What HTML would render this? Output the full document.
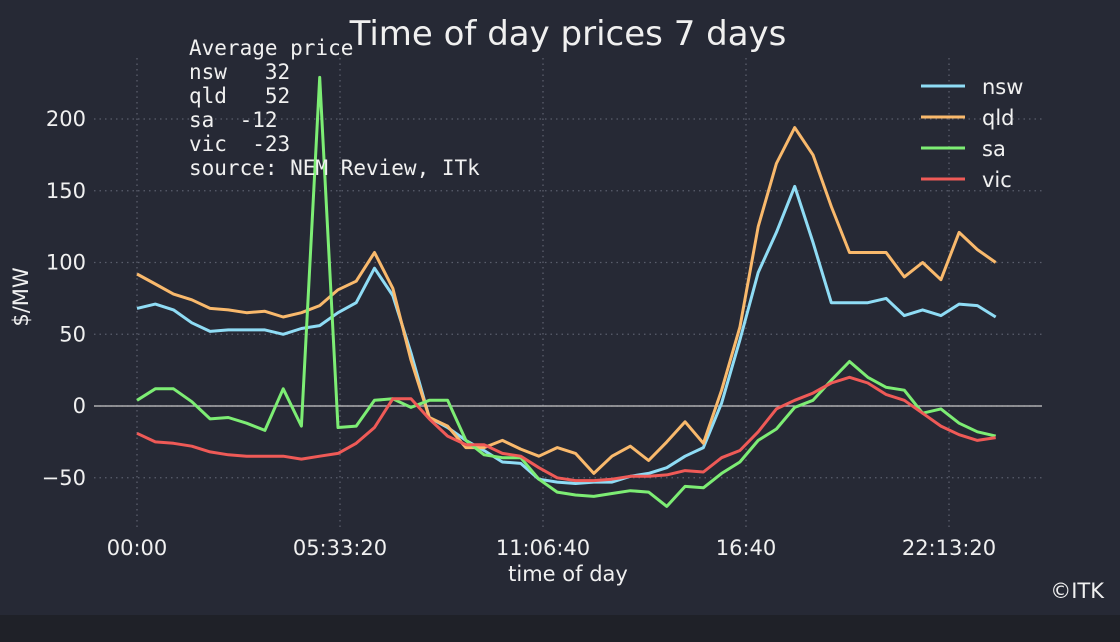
<!DOCTYPE html>
<html><head><meta charset="utf-8">
<style>
html,body{margin:0;padding:0;background:#1f2128;}
body{width:1120px;height:642px;overflow:hidden;}
svg{display:block;}
text{font-family:"DejaVu Sans","Liberation Sans",sans-serif;fill:#f0f0f0;}
.mono{font-family:"DejaVu Sans Mono","Liberation Mono",monospace;}
</style></head>
<body>
<svg id="chart" width="1120" height="642">
<rect x="0" y="0" width="1120" height="615" fill="#262935"/>
<g id="grid"></g>
<g id="series"></g>
<g id="axes"></g>
<text x="568" y="45" font-size="34" text-anchor="middle">Time of day prices 7 days</text>
<text class="mono" x="189" y="55" font-size="21">Average price</text>
<text class="mono" x="189" y="79" font-size="21" xml:space="preserve">nsw   32</text>
<text class="mono" x="189" y="103" font-size="21" xml:space="preserve">qld   52</text>
<text class="mono" x="189" y="127" font-size="21" xml:space="preserve">sa  -12</text>
<text class="mono" x="189" y="151" font-size="21" xml:space="preserve">vic  -23</text>
<text class="mono" x="189" y="175" font-size="21">source: NEM Review, ITk</text>
<text x="568" y="581" font-size="21" text-anchor="middle">time of day</text>
<text x="28" y="297" font-size="21" text-anchor="middle" transform="rotate(-90 28 297)">$/MW</text>
<text x="1104" y="598" font-size="21" text-anchor="end">©ITK</text>
<g id="legend"></g>
</svg>
<script>
const regions = ["nsw","qld","sa","vic"];
const colors = ["#8fdcf5","#f9b96c","#7ded74","#ef5a57"];
const nsw = [68,71,67,58,52,53,53,53,50,54,56,65,72,96,77,37,-8,-15,-24,-31,-39,-40,-51,-53,-54,-53,-53,-49,-47,-43,-35,-29,2,46,93,121,153,114,72,72,72,75,63,67,63,71,70,62];
const qld = [92,85,78,74,68,67,65,66,62,65,70,81,87,107,82,32,-8,-14,-29,-29,-24,-30,-35,-29,-33,-47,-35,-28,-38,-25,-11,-26,11,55,125,169,194,175,139,107,107,107,90,100,88,121,109,100];
const sa = [4,12,12,3,-9,-8,-12,-17,12,-14,229,-15,-14,4,5,-1,4,4,-24,-34,-36,-36,-51,-60,-62,-63,-61,-59,-60,-70,-56,-57,-47,-39,-24,-16,-1,4,18,31,20,13,11,-5,-2,-12,-18,-21];
const vic = [-19,-25,-26,-28,-32,-34,-35,-35,-35,-37,-35,-33,-26,-15,5,5,-9,-21,-27,-27,-33,-35,-43,-50,-52,-52,-51,-49,-49,-48,-45,-46,-36,-31,-18,-2,4,9,16,20,16,8,4,-5,-14,-20,-24,-22];
const yTicks = [-50,0,50,100,150,200];
const xTickSeconds = [0,20000,40000,60000,80000];
const xTickLabels = ["00:00","05:33:20","11:06:40","16:40","22:13:20"];
const intervalSeconds = 1800;

const NS="http://www.w3.org/2000/svg";
const X0=137, PXPERSEC=203/20000, Y0=406, PXPERVAL=1.435;
const L=94, R=1042, T=58, B=527;
function xs(s){return X0+s*PXPERSEC;}
function ys(v){return Y0-v*PXPERVAL;}
function mk(tag,attrs,parent){const e=document.createElementNS(NS,tag);for(const k in attrs)e.setAttribute(k,attrs[k]);parent.appendChild(e);return e;}
const grid=document.getElementById('grid'), axes=document.getElementById('axes'), ser=document.getElementById('series'), leg=document.getElementById('legend');
yTicks.forEach(v=>{
  const l=mk('line',{x1:L,x2:R,y1:ys(v),y2:ys(v),stroke:'#5a5e6c','stroke-width':1.3,'stroke-dasharray':'1.5 4'},grid);
  
  
  const t=mk('text',{x:86,y:ys(v)+7,'font-size':21,'text-anchor':'end'},axes);
  t.textContent=(v<0?'\u2212'+Math.abs(v):v);
  
  
});
xTickSeconds.forEach((s,i)=>{
  const l=mk('line',{x1:xs(s),x2:xs(s),y1:T,y2:B,stroke:'#5a5e6c','stroke-width':1.3,'stroke-dasharray':'1.5 4'},grid);
  
  
  const t=mk('text',{x:xs(s),y:555,'font-size':21,'text-anchor':'middle'},axes);
  t.textContent=xTickLabels[i];
  
  
});
const z=mk('line',{x1:L,x2:R,y1:ys(0),y2:ys(0),stroke:'#c8c8c8','stroke-width':1.3},grid);


[nsw,qld,sa,vic].forEach((arr,k)=>{
  const pts=arr.map((v,i)=>xs(i*intervalSeconds).toFixed(1)+','+ys(v).toFixed(1)).join(' ');
  const p=mk('polyline',{points:pts,fill:'none',stroke:colors[k],'stroke-width':3,'stroke-linejoin':'round'},ser);
  
  
  const ll=mk('line',{x1:921,x2:965,y1:86+31*k,y2:86+31*k,stroke:colors[k],'stroke-width':3},leg);
  
  
  const lt=mk('text',{x:982,y:94+31*k,'font-size':21},leg);
  lt.textContent=regions[k];
  
  
});
</script>
</body></html>
